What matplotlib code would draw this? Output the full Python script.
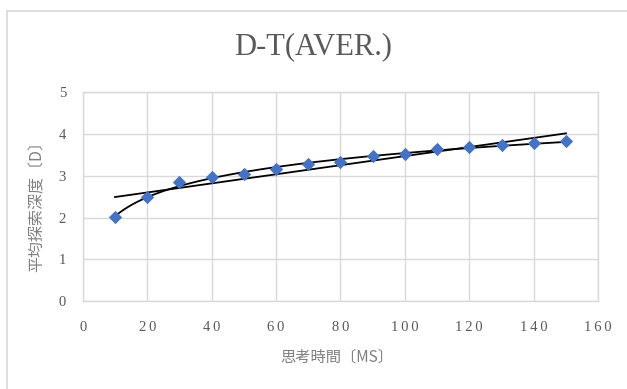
import matplotlib
matplotlib.use('Agg')
import matplotlib.pyplot as plt
from matplotlib.ticker import FuncFormatter
import numpy as np

# 思考時間ごとの平均探索深度
think_time = [10, 20, 30, 40, 50, 60, 70, 80, 90, 100, 110, 120, 130, 140, 150]
avg_depth = [2.01, 2.50, 2.84, 2.97, 3.04, 3.16, 3.27, 3.34, 3.47, 3.52,
             3.63, 3.70, 3.73, 3.78, 3.83]
x_ticks = [0, 20, 40, 60, 80, 100, 120, 140, 160]
y_ticks = [0, 1, 2, 3, 4, 5]

serif = ['Liberation Serif', 'DejaVu Serif']
jp = ['Noto Sans CJK JP', 'DejaVu Sans']
txt_color = '#595959'
grid_color = '#d9d9d9'

fig = plt.figure(figsize=(6.27, 3.89), dpi=100)
ax = fig.add_axes([0.132, 0.226, 0.822, 0.537])

x = np.array(think_time, dtype=float)
y = np.array(avg_depth)

# 近似曲線(線形・対数)
lin = np.polyfit(x, y, 1)
logc = np.polyfit(np.log(x), y, 1)
xs = np.linspace(x.min(), x.max(), 200)
ax.plot(xs, np.polyval(lin, xs), color='black', lw=1.3, zorder=3)
ax.plot(xs, np.polyval(logc, np.log(xs)), color='black', lw=1.3, zorder=3)

ax.scatter(x, y, marker='D', s=46, color='#4472C4', zorder=4, linewidths=0)

ax.set_xlim(0, 160)
ax.set_ylim(0, 5)
ax.set_xticks(x_ticks)
ax.set_yticks(y_ticks)

# 字間を少し空けた目盛ラベル
spaced = FuncFormatter(lambda v, p: '\u2009'.join(f'{v:g}'))
ax.xaxis.set_major_formatter(spaced)
ax.yaxis.set_major_formatter(spaced)

ax.grid(True, color=grid_color, lw=1.0)
ax.set_axisbelow(True)
for s in ax.spines.values():
    s.set_color(grid_color)
    s.set_linewidth(1.0)
ax.tick_params(length=0, colors=txt_color, labelsize=10.5)
ax.tick_params(axis='x', pad=14)
ax.tick_params(axis='y', pad=12)
for lab in ax.get_xticklabels() + ax.get_yticklabels():
    lab.set_fontfamily(serif)

fig.text(0.5, 0.879, 'D-T(AVER.)', ha='center', va='center', fontsize=22,
         color=txt_color, family=serif)
fig.text(0.537, 0.083, '思考時間〔MS〕', ha='center', va='center', fontsize=11,
         color='#7f7f7f', family=jp)
fig.text(0.059, 0.48, '平均探索深度〔D〕', ha='center', va='center', fontsize=11.5,
         color='#7f7f7f', family=jp, rotation=90)

# グラフ枠
fig.add_artist(plt.Line2D([0.011, 0.011], [0, 0.972], color='#d9d9d9', lw=1.2))
fig.add_artist(plt.Line2D([0.011, 1.0], [0.972, 0.972], color='#d9d9d9', lw=1.2))

fig.savefig('out.png', dpi=100)
